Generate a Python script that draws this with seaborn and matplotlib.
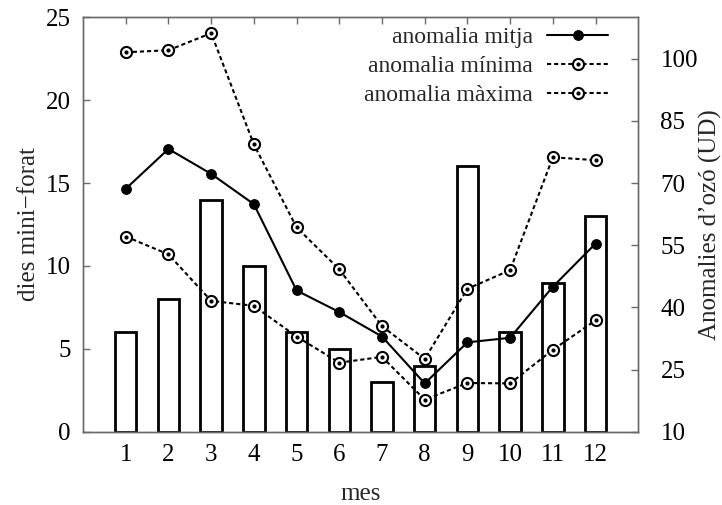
import matplotlib
matplotlib.use("Agg")
import matplotlib.pyplot as plt
from matplotlib.legend_handler import HandlerTuple
import seaborn as sns
import pandas as pd

# Monthly data
months = [1, 2, 3, 4, 5, 6, 7, 8, 9, 10, 11, 12]
dies_miniforat = [6, 8, 14, 10, 6, 5, 3, 4, 16, 6, 9, 13]
anomalia_mitja = [68.6, 78.2, 72.2, 64.9, 44.1, 38.9, 33.0, 21.7, 31.6, 32.7, 45.0, 55.4]
anomalia_minima = [57.1, 52.8, 41.6, 40.4, 33.0, 26.7, 28.1, 17.8, 21.8, 21.7, 29.8, 36.9]
anomalia_maxima = [101.5, 102.0, 106.1, 79.3, 59.3, 49.2, 35.5, 27.6, 44.5, 49.0, 76.2, 75.5]
left_ticks = [0, 5, 10, 15, 20, 25]
right_ticks = [10, 25, 40, 55, 70, 85, 100]

sns.set_theme(style="white")
plt.rcParams["font.family"] = ["Liberation Serif", "DejaVu Serif"]

spine_col = "#6a6a6a"
fs = 18
fig = plt.figure(figsize=(7.22, 5.05), dpi=100)
ax = fig.add_axes([0.115, 0.1446, 0.769, 0.8217])

df_bars = pd.DataFrame({"mes": months, "dies": dies_miniforat})
sns.barplot(data=df_bars, x="mes", y="dies", native_scale=True, width=0.5,
            color="white", edgecolor="black", linewidth=2.0, ax=ax, zorder=2)
ax.set_xlim(0, 13)
ax.set_ylim(0, 25)
ax.set_xticks(months)
ax.set_xticklabels([str(m) for m in months])
ax.set_yticks(left_ticks)
ax.set_xlabel("mes", fontsize=fs, labelpad=12)
ax.set_ylabel("dies mini\u2212forat", fontsize=fs, labelpad=4)

ax2 = ax.twinx()
ax2.set_ylim(10, 110)
ax2.set_yticks(right_ticks)
ax2.set_ylabel("Anomalies d\u2019oz\u00f3 (UD)", fontsize=fs, labelpad=1)

df_lines = pd.DataFrame({"mes": months, "mitja": anomalia_mitja,
                         "minima": anomalia_minima, "maxima": anomalia_maxima})

sns.lineplot(data=df_lines, x="mes", y="mitja", ax=ax2, color="black", lw=1.5,
             marker="o", markersize=7, markerfacecolor="black",
             markeredgecolor="black", zorder=3)
h_mitja = ax2.lines[-1]

handles_open = []
for col in ["minima", "maxima"]:
    sns.lineplot(data=df_lines, x="mes", y=col, ax=ax2, color="black", lw=1.5,
                 linestyle=(0, (2.0, 1.4)), marker="o", markersize=8,
                 markerfacecolor="white", markeredgecolor="black",
                 markeredgewidth=1.5, zorder=3)
    ln = ax2.lines[-1]
    dot, = ax2.plot(df_lines["mes"], df_lines[col], linestyle="none",
                    marker="o", markersize=2.0, color="black", zorder=4)
    handles_open.append((ln, dot))

ax2.set_xlabel("")
for a in (ax, ax2):
    for s in a.spines.values():
        s.set_color(spine_col)
        s.set_linewidth(1.0)
    a.tick_params(direction="in", length=5, width=1.0, color=spine_col,
                  labelsize=fs, labelcolor="black")
ax.tick_params(axis="x", top=True, bottom=True, pad=9)
ax.tick_params(axis="y", left=True, right=False, pad=9)
ax2.tick_params(axis="y", right=True, left=False, pad=16)

leg = ax2.legend([h_mitja, handles_open[0], handles_open[1]],
                 ["anomalia mitja", "anomalia m\u00ednima", "anomalia m\u00e0xima"],
                 handler_map={tuple: HandlerTuple(ndivide=1, pad=0)},
                 loc="upper right", bbox_to_anchor=(0.963, 1.0),
                 frameon=False, markerfirst=False, fontsize=17,
                 handlelength=2.6, handletextpad=0.6, labelspacing=0.32,
                 borderaxespad=0.0)

fig.savefig("out.png", dpi=100)
